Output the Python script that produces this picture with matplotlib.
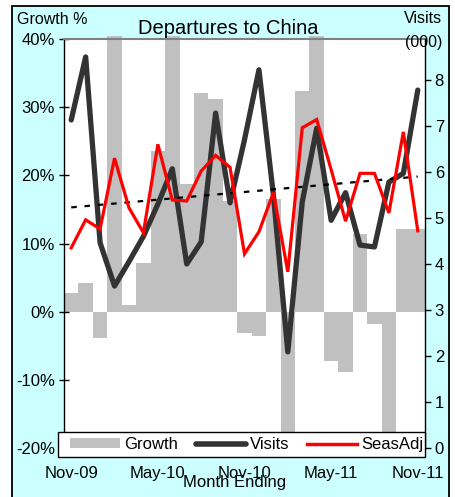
import matplotlib
matplotlib.use('Agg')
import matplotlib.pyplot as plt
from matplotlib.patches import Rectangle, Patch
from matplotlib.lines import Line2D

plt.rcParams['font.family'] = ['Liberation Sans', 'DejaVu Sans']

months = ['Nov-09', 'Dec-09', 'Jan-10', 'Feb-10', 'Mar-10', 'Apr-10', 'May-10',
          'Jun-10', 'Jul-10', 'Aug-10', 'Sep-10', 'Oct-10', 'Nov-10', 'Dec-10',
          'Jan-11', 'Feb-11', 'Mar-11', 'Apr-11', 'May-11', 'Jun-11', 'Jul-11',
          'Aug-11', 'Sep-11', 'Oct-11', 'Nov-11']
growth = [2.8, 4.2, -3.8, 40.5, 1.0, 7.2, 23.5, 40.5, 18.7, 32.1, 31.2, 16.3,
          -3.2, -3.5, 16.6, -21.0, 32.4, 40.5, -7.3, -8.8, 11.4, -1.8, -21.0, 12.2, 12.2]
visits = [7.13, 8.5, 4.46, 3.52, 4.05, 4.6, 5.3, 6.07, 4.0, 4.48, 7.28, 5.33,
          6.7, 8.22, 5.5, 2.09, 5.35, 6.95, 4.95, 5.55, 4.41, 4.37, 5.78, 5.97, 7.78]
seas_adj = [4.35, 4.96, 4.76, 6.3, 5.22, 4.68, 6.6, 5.39, 5.37, 6.02, 6.36, 6.1,
            4.22, 4.7, 5.55, 3.83, 6.96, 7.14, 6.05, 4.93, 5.97, 5.97, 5.11, 6.87, 4.72]
trend = [5.23, 5.90]  # linear trend of visits, first and last month
tick_every = 6

fig = plt.figure(figsize=(4.56, 4.97), dpi=100)
fig.patch.set_facecolor('white')
W, H = 456.0, 497.0
fig.patches.append(Rectangle((12.5 / W, -0.02), (449 - 12.5) / W, 1 - 6 / H + 0.02,
                             transform=fig.transFigure, facecolor='#CCFFFF',
                             edgecolor='black', lw=1.3, zorder=-5))

AW, AH = 425 - 64, 448 - 39
ax = fig.add_axes([64 / W, 1 - 448 / H, AW / W, AH / H])
ax.set_facecolor('white')
x = list(range(len(months)))
ax.bar(x, growth, width=1.0, color='#C0C0C0', clip_on=False, zorder=1)
ax.set_xlim(-0.5, len(months) - 0.5)
ax.set_ylim(-20, 40)
ax.set_yticks([-20, -10, 0, 10, 20, 30, 40])
ax.set_yticklabels(['-20%', '-10%', '0%', '10%', '20%', '30%', '40%'])
ax.set_xticks(x[::tick_every])
ax.set_xticklabels(months[::tick_every])
ax.tick_params(axis='y', direction='inout', length=7, width=1, pad=3, labelsize=12)
ax.tick_params(axis='x', length=0, pad=13, labelsize=12)
ax.spines['top'].set_color('#808080')
ax.spines['top'].set_linewidth(1.5)
ax.spines['left'].set_linewidth(1)
ax.spines['right'].set_visible(False)
ax.spines['bottom'].set_visible(False)

ax2 = ax.twinx()
ax2.set_ylim(0, 8.89)
ax2.set_yticks(range(0, 9))
ax2.plot(x, visits, color='#333333', lw=3.8, solid_joinstyle='round',
         solid_capstyle='round', zorder=3)
ax2.plot([x[0], x[-1]], trend, color='black', lw=1.6, ls=(0, (2.5, 3.5)), zorder=4)
ax2.plot(x, seas_adj, color='#FF0000', lw=2.3, solid_joinstyle='miter', zorder=5)
ax2.tick_params(axis='y', direction='out', length=4, width=1, pad=3, labelsize=12)
ax2.spines['right'].set_linewidth(1)
for s in ['top', 'left', 'bottom']:
    ax2.spines[s].set_visible(False)

# legend box, drawn by hand so it can sit over the bottom of the plot
box = Rectangle((-6 / AW, -9 / AH), 367 / AW, 25 / AH, transform=ax2.transAxes,
                facecolor='white', edgecolor='black', lw=1, clip_on=False, zorder=9)
ax2.add_patch(box)
handles = [Patch(facecolor='#C0C0C0', edgecolor='none'),
           Line2D([], [], color='#333333', lw=4, solid_capstyle='round'),
           Line2D([], [], color='#FF0000', lw=2.5)]
leg = ax2.legend(handles, ['Growth', 'Visits', 'SeasAdj'], ncol=3,
                 bbox_to_anchor=(6 / AW, 3.5 / AH), loc='center left',
                 borderaxespad=0, borderpad=0, fontsize=12, frameon=False,
                 handlelength=3.0, handleheight=0.55, handletextpad=0.22,
                 columnspacing=1.1)
leg.set_zorder(10)

fig.text(228 / W, 1 - 34 / H, 'Departures to China', ha='center', va='baseline', fontsize=14.5)
fig.text(17 / W, 1 - 24 / H, 'Growth %', ha='left', va='baseline', fontsize=11.5)
fig.text(442 / W, 1 - 23 / H, 'Visits', ha='right', va='baseline', fontsize=11.5)
fig.text(442 / W, 1 - 47 / H, '(000)', ha='right', va='baseline', fontsize=11.5)
fig.text(235 / W, 1 - 487 / H, 'Month Ending', ha='center', va='baseline', fontsize=12)

fig.savefig('out.png', dpi=100)
